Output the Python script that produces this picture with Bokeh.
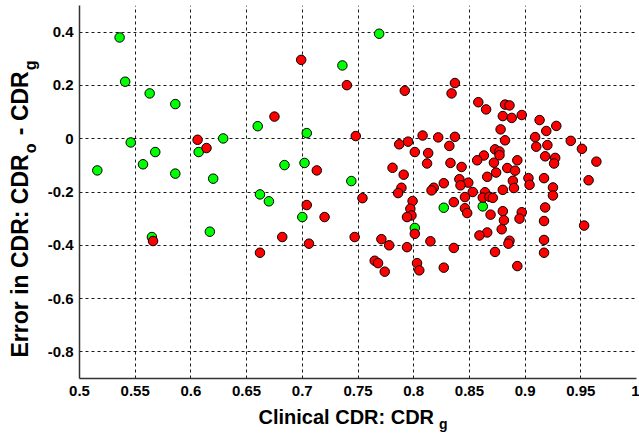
import math
from bokeh.plotting import figure
from bokeh.models import Label, FixedTicker, Title
from bokeh.embed import file_html
from bokeh.resources import INLINE

# ---------------- data ----------------
green_x = [0.536, 0.541, 0.563, 0.586, 0.660, 0.546, 0.629, 0.568, 0.607, 0.557,
           0.516, 0.586, 0.620, 0.684, 0.662, 0.670, 0.617, 0.565, 0.769, 0.736,
           0.704, 0.702, 0.744, 0.700, 0.827, 0.801, 0.862]
green_y = [0.380, 0.214, 0.170, 0.130, 0.047, -0.014, 0.001, -0.050, -0.050, -0.096,
           -0.119, -0.131, -0.150, -0.099, -0.209, -0.235, -0.349, -0.369, 0.394, 0.275,
           0.021, -0.091, -0.159, -0.294, -0.259, -0.335, -0.254]

red_x = [0.606, 0.614, 0.566, 0.662, 0.675, 0.699, 0.740, 0.792, 0.837, 0.834,
         0.748, 0.808, 0.822, 0.837, 0.787, 0.795, 0.832, 0.801, 0.813, 0.812,
         0.833, 0.843, 0.713, 0.781, 0.791, 0.841, 0.849, 0.827, 0.818, 0.816,
         0.789, 0.786, 0.704, 0.720, 0.754, 0.799, 0.797, 0.798, 0.794, 0.836,
         0.846, 0.848, 0.801, 0.682, 0.706, 0.747, 0.771, 0.778, 0.794, 0.815,
         0.836, 0.765, 0.768, 0.774, 0.803, 0.805, 0.827,
         0.858, 0.865, 0.882, 0.886, 0.880, 0.888, 0.897, 0.913, 0.928, 0.919,
         0.878, 0.882, 0.909, 0.910, 0.920, 0.941, 0.951, 0.964, 0.957, 0.918,
         0.927, 0.926, 0.873, 0.877, 0.877, 0.863, 0.857, 0.872, 0.893, 0.884,
         0.891, 0.874, 0.866, 0.903, 0.917, 0.842, 0.889, 0.890, 0.880, 0.904,
         0.925, 0.925, 0.853, 0.864, 0.846, 0.862, 0.868, 0.871, 0.880, 0.897,
         0.918, 0.869, 0.895, 0.881, 0.879, 0.917, 0.953, 0.866, 0.859, 0.886,
         0.885, 0.917, 0.917, 0.873, 0.893]
red_y = [-0.004, -0.035, -0.384, -0.428, 0.083, 0.296, 0.201, 0.180, 0.209, 0.170,
         0.010, 0.012, 0.005, 0.007, -0.021, -0.011, -0.027, -0.050, -0.054, -0.093,
         -0.091, -0.106, -0.119, -0.109, -0.135, -0.152, -0.165, -0.167, -0.184, -0.194,
         -0.184, -0.204, -0.249, -0.294, -0.223, -0.234, -0.263, -0.288, -0.294, -0.238,
         -0.261, -0.279, -0.357, -0.369, -0.394, -0.369, -0.377, -0.400, -0.407, -0.385,
         -0.410, -0.458, -0.467, -0.499, -0.467, -0.494, -0.484,
         0.137, 0.110, 0.128, 0.125, 0.085, 0.078, 0.089, 0.070, 0.048, 0.029,
         0.035, -0.006, 0.006, -0.030, -0.024, -0.008, -0.038, -0.086, -0.156, -0.066,
         -0.072, -0.093, -0.040, -0.048, -0.062, -0.063, -0.081, -0.090, -0.081, -0.110,
         -0.120, -0.127, -0.143, -0.148, -0.148, -0.175, -0.158, -0.185, -0.192, -0.173,
         -0.183, -0.213, -0.200, -0.201, -0.219, -0.221, -0.218, -0.222, -0.272, -0.276,
         -0.258, -0.285, -0.300, -0.306, -0.340, -0.309, -0.326, -0.352, -0.363, -0.383,
         -0.394, -0.380, -0.428, -0.425, -0.478]

x_ticks = [0.5, 0.55, 0.6, 0.65, 0.7, 0.75, 0.8, 0.85, 0.9, 0.95, 1.0]
x_tick_labels = ["0.5", "0.55", "0.6", "0.65", "0.7", "0.75", "0.8", "0.85", "0.9", "0.95", "1"]
y_ticks = [-0.8, -0.6, -0.4, -0.2, 0, 0.2, 0.4]
y_tick_labels = ["-0.8", "-0.6", "-0.4", "-0.2", "0", "0.2", "0.4"]

x_label_main = "Clinical CDR: CDR"
x_label_sub = "g"
NB = "\u00a0"
y_label_head = "Error in CDR: CDR"
y_label_tail = NB + NB + " - CDR"
y_label_subs = ["o", "g"]

X_RANGE = (0.5, 1.0)
Y_RANGE = (-0.9, 0.5)

# ---------------- layout (canvas pixels = page pixels) ----------------
W, H = 639, 435
BL, BT, BR = 79, 5, 3
FH = 373
BB = H - BT - FH
FONT = "Liberation Sans"

p = figure(width=W, height=H, x_range=X_RANGE, y_range=Y_RANGE,
           output_backend="svg", toolbar_location=None,
           min_border_left=BL, min_border_right=BR,
           min_border_top=BT, min_border_bottom=BB)
p.outline_line_color = None
p.background_fill_color = "white"
p.border_fill_color = "white"

for ax, ticks, labels in ((p.xaxis, x_ticks, x_tick_labels), (p.yaxis, y_ticks, y_tick_labels)):
    ax.ticker = FixedTicker(ticks=ticks)
    ax.major_label_overrides = {t: l for t, l in zip(ticks, labels)}
    ax.major_label_text_font = FONT
    ax.major_label_text_font_style = "bold"
    ax.major_label_text_font_size = "15px"
    ax.major_label_text_color = "black"
    ax.axis_line_color = "#333333"
    ax.axis_line_width = 1.5
    ax.major_tick_in = 0
    ax.major_tick_out = 0
    ax.minor_tick_line_color = None
p.xaxis.major_label_standoff = 7
p.yaxis.major_label_standoff = 6

p.xgrid.ticker = FixedTicker(ticks=x_ticks)
p.ygrid.ticker = FixedTicker(ticks=y_ticks)
for g in (p.xgrid, p.ygrid):
    g.grid_line_color = "black"
    g.grid_line_alpha = 0.9
    g.grid_line_dash = "3 3"
    g.grid_line_width = 1

p.scatter(green_x, green_y, size=9.5, fill_color="#00ff00", line_color="black", line_width=1)
p.scatter(red_x, red_y, size=9.5, fill_color="#ff0000", line_color="black", line_width=1)

# ---------------- axis titles (with subscripts) ----------------
EM = {"E": 667, "r": 389, "o": 611, " ": 278, NB: 278, "i": 278, "n": 611, "C": 722,
      "D": 722, "R": 722, ":": 333, "-": 333, "g": 611, "l": 278, "c": 556, "a": 556}


def tw(s, size):
    return sum(EM.get(c, 556) for c in s) / 1000.0 * size


def sub_label(text, cx, cy, size, side, angle=0.0):
    p.add_layout(Label(x=cx, y=cy, x_units="canvas", y_units="canvas", text=text,
                       text_font=FONT, text_font_style="bold",
                       text_font_size=f"{size}px", text_color="black",
                       text_align="left", text_baseline="alphabetic",
                       angle=angle), side)


def main_title(text, size, side, offset, standoff, valign):
    p.add_layout(Title(text=text, text_font=FONT, text_font_style="bold",
                       text_font_size=f"{size}px", text_color="black",
                       align="left", vertical_align=valign,
                       offset=offset, standoff=standoff), side)


# x title: subscript label first, main title last in the bottom panel
XL_SIZE, XS_SIZE = 20, 14
x_start, x_sub_base = 258, 423.5
sub_label(x_label_sub, x_start + tw(x_label_main, XL_SIZE) + 5, x_sub_base, XS_SIZE, "below")
main_title(x_label_main, XL_SIZE, "below", offset=x_start - BL, standoff=-18, valign="top")

# y title: subscript labels first, main title last in the left panel
YL_SIZE, YS_SIZE = 23, 16
y_start = 357
sub_x = 29.5
sub_label(y_label_subs[0], sub_x, y_start - tw(y_label_head, YL_SIZE) - 1, YS_SIZE, "left", math.pi / 2)
sub_label(y_label_subs[1], sub_x, y_start - tw(y_label_head + y_label_tail, YL_SIZE) - 1, YS_SIZE,
          "left", math.pi / 2)
main_title(y_label_head + y_label_tail, YL_SIZE, "left", offset=(BT + FH) - y_start,
           standoff=-44, valign="bottom")

open("out.html", "w").write(file_html(p, INLINE))
